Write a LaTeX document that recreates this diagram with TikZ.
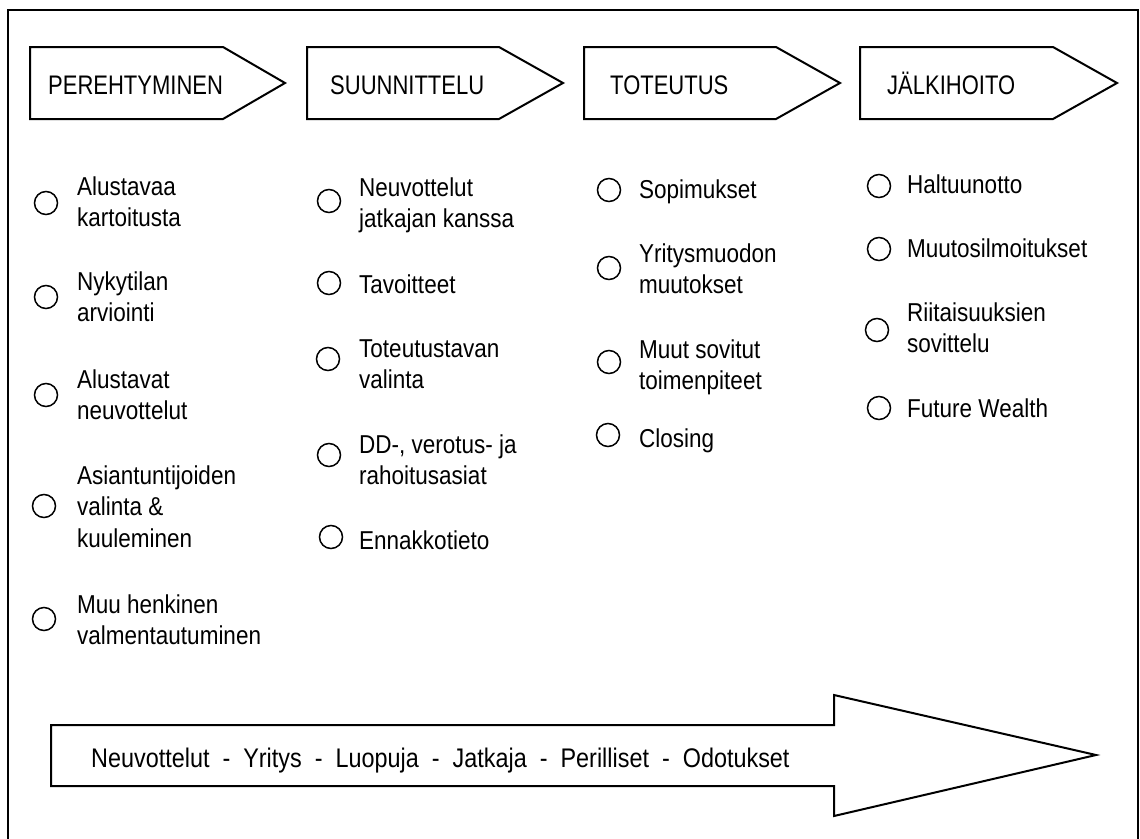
\documentclass[tikz,border=0pt]{standalone}
\usepackage{fontspec}
\setmainfont{Liberation Sans}
\usepackage{graphicx}
\newcommand\stx[2]{\scalebox{1}[#1]{\begin{tabular}[t]{@{}l@{}}#2\end{tabular}}}
\tikzset{
  frameline/.style={line width=2pt},
  phase/.style={draw, line width=2pt, line join=miter},
  bullet/.style={circle, draw, line width=1.5pt, minimum size=23pt, inner sep=0pt},
  item/.style={anchor=base west, inner sep=0pt, font=\fontsize{22.5}{27.8}\selectfont},
  head/.style={anchor=base west, inner sep=0pt, font=\fontsize{22}{26}\selectfont},
}
\begin{document}
\begin{tikzpicture}[x=1pt, y=-1pt]
\useasboundingbox (0,0) rectangle (1140,838);
\fill[white] (0,0) rectangle (1140,838);
% outer frame
\draw[frameline] (8,845) -- (8,10) -- (1138,10) -- (1138,845);
% phase arrows
\draw[phase] (30,47) -- (223,47) -- (285,83) -- (223,119) -- (30,119) -- cycle;
\draw[phase] (307,47) -- (499,47) -- (563,83) -- (499,119) -- (307,119) -- cycle;
\draw[phase] (584,47) -- (776,47) -- (840,83) -- (776,119) -- (584,119) -- cycle;
\draw[phase] (860,47) -- (1053,47) -- (1117,83) -- (1053,119) -- (860,119) -- cycle;
\node[head] (h1) at (48,94) {\stx{1.22}{PEREHTYMINEN}};
\node[head] (h2) at (330,94) {\stx{1.22}{SUUNNITTELU}};
\node[head] (h3) at (610,94) {\stx{1.22}{TOTEUTUS}};
\node[head] (h4) at (887,94) {\stx{1.22}{JÄLKIHOITO}};
% column 1
\node[bullet] (c11) at (46,203) {};
\node[item] (t11) at (77,195) {\stx{1.15}{Alustavaa\\kartoitusta}};
\node[bullet] (c12) at (46,297) {};
\node[item] (t12) at (77,290) {\stx{1.15}{Nykytilan\\arviointi}};
\node[bullet] (c13) at (46,395) {};
\node[item] (t13) at (77,388) {\stx{1.15}{Alustavat\\neuvottelut}};
\node[bullet] (c14) at (44,506) {};
\node[item] (t14) at (77,484) {\stx{1.15}{Asiantuntijoiden\\valinta \&\\kuuleminen}};
\node[bullet] (c15) at (44,619) {};
\node[item] (t15) at (77,613) {\stx{1.15}{Muu henkinen\\valmentautuminen}};
% column 2
\node[bullet] (c21) at (329,201) {};
\node[item] (t21) at (359,196) {\stx{1.15}{Neuvottelut\\jatkajan kanssa}};
\node[bullet] (c22) at (329,283) {};
\node[item] (t22) at (359,293) {\stx{1.15}{Tavoitteet}};
\node[bullet] (c23) at (328,359) {};
\node[item] (t23) at (359,357) {\stx{1.15}{Toteutustavan\\valinta}};
\node[bullet] (c24) at (329,455) {};
\node[item] (t24) at (359,453) {\stx{1.15}{DD-, verotus- ja\\rahoitusasiat}};
\node[bullet] (c25) at (331,537) {};
\node[item] (t25) at (359,549) {\stx{1.15}{Ennakkotieto}};
% column 3
\node[bullet] (c31) at (609,190) {};
\node[item] (t31) at (639,198) {\stx{1.15}{Sopimukset}};
\node[bullet] (c32) at (609,268) {};
\node[item] (t32) at (639,262) {\stx{1.15}{Yritysmuodon\\muutokset}};
\node[bullet] (c33) at (609,362) {};
\node[item] (t33) at (639,358) {\stx{1.15}{Muut sovitut\\toimenpiteet}};
\node[bullet] (c34) at (608,435) {};
\node[item] (t34) at (639,447) {\stx{1.15}{Closing}};
% column 4
\node[bullet] (c41) at (879,186) {};
\node[item] (t41) at (907,193) {\stx{1.15}{Haltuunotto}};
\node[bullet] (c42) at (879,249) {};
\node[item] (t42) at (907,257) {\stx{1.15}{Muutosilmoitukset}};
\node[bullet] (c43) at (877,330) {};
\node[item] (t43) at (907,321) {\stx{1.15}{Riitaisuuksien\\sovittelu}};
\node[bullet] (c44) at (879,408) {};
\node[item] (t44) at (907,417) {\stx{1.15}{Future Wealth}};
% bottom arrow
\draw[phase] (51,725) -- (834,725) -- (834,695) -- (1096,755) -- (834,816) -- (834,786) -- (51,786) -- cycle;
\node[item, font=\fontsize{23.4}{28}\selectfont] (bt) at (91,767) {\stx{1.15}{Neuvottelut~~-~~Yritys~~-~~Luopuja~~-~~Jatkaja~~-~~Perilliset~~-~~Odotukset}};
\end{tikzpicture}
\end{document}
